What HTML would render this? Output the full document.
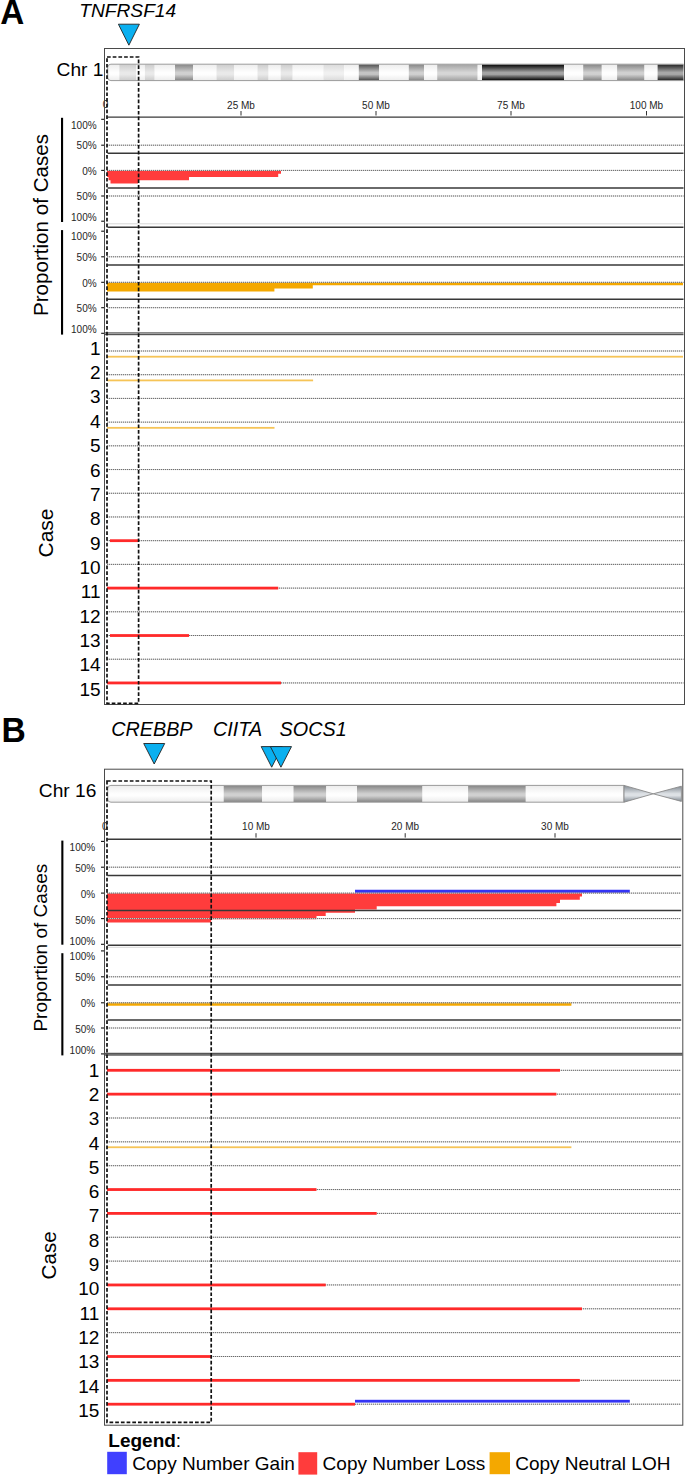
<!DOCTYPE html>
<html><head><meta charset="utf-8"><title>Figure</title>
<style>html,body{margin:0;padding:0;background:#fff;}body{width:685px;height:1475px;position:relative;overflow:hidden;font-family:"Liberation Sans", sans-serif;}</style>
</head><body>
<svg width="685" height="1475" viewBox="0 0 685 1475" style="position:absolute;left:0;top:0" font-family='"Liberation Sans", sans-serif'><defs><linearGradient id="w" x1="0" y1="0" x2="0" y2="1"><stop offset="0.04" stop-color="#eeeeee"/><stop offset="0.5" stop-color="#fefefe"/><stop offset="0.62" stop-color="#fefefe"/><stop offset="0.96" stop-color="#eeeeee"/></linearGradient><linearGradient id="g05" x1="0" y1="0" x2="0" y2="1"><stop offset="0.04" stop-color="#dcdcdc"/><stop offset="0.5" stop-color="#f0f0f0"/><stop offset="0.62" stop-color="#f0f0f0"/><stop offset="0.96" stop-color="#dcdcdc"/></linearGradient><linearGradient id="g1" x1="0" y1="0" x2="0" y2="1"><stop offset="0.04" stop-color="#cfcfcf"/><stop offset="0.5" stop-color="#e9e9e9"/><stop offset="0.62" stop-color="#e9e9e9"/><stop offset="0.96" stop-color="#cfcfcf"/></linearGradient><linearGradient id="g15" x1="0" y1="0" x2="0" y2="1"><stop offset="0.04" stop-color="#a6a6a6"/><stop offset="0.5" stop-color="#d6d6d6"/><stop offset="0.62" stop-color="#d6d6d6"/><stop offset="0.96" stop-color="#a6a6a6"/></linearGradient><linearGradient id="g2" x1="0" y1="0" x2="0" y2="1"><stop offset="0.04" stop-color="#8a8a8a"/><stop offset="0.5" stop-color="#d0d0d0"/><stop offset="0.62" stop-color="#d0d0d0"/><stop offset="0.96" stop-color="#8a8a8a"/></linearGradient><linearGradient id="g3" x1="0" y1="0" x2="0" y2="1"><stop offset="0.04" stop-color="#585858"/><stop offset="0.5" stop-color="#c4c4c4"/><stop offset="0.62" stop-color="#c4c4c4"/><stop offset="0.96" stop-color="#585858"/></linearGradient><linearGradient id="g35" x1="0" y1="0" x2="0" y2="1"><stop offset="0.04" stop-color="#2a2a2a"/><stop offset="0.5" stop-color="#a8a8a8"/><stop offset="0.62" stop-color="#a8a8a8"/><stop offset="0.96" stop-color="#2a2a2a"/></linearGradient><linearGradient id="g4" x1="0" y1="0" x2="0" y2="1"><stop offset="0.04" stop-color="#0c0c0c"/><stop offset="0.5" stop-color="#a4a4a4"/><stop offset="0.62" stop-color="#a4a4a4"/><stop offset="0.96" stop-color="#0c0c0c"/></linearGradient><linearGradient id="cen" x1="0" y1="0" x2="0" y2="1"><stop offset="0.04" stop-color="#8a929a"/><stop offset="0.5" stop-color="#dde1e5"/><stop offset="0.62" stop-color="#dde1e5"/><stop offset="0.96" stop-color="#8a929a"/></linearGradient></defs><rect x="0" y="0" width="685" height="1475" fill="#fff"/><text x="0" y="0" font-size="35" font-weight="bold" transform="translate(0.3,24.1) scale(0.95,1)">A</text><text x="79.2" y="17.1" font-size="19.2" text-anchor="start" font-weight="normal" font-style="italic" fill="#000" >TNFRSF14</text><polygon points="118.4,24.2 139.4,24.2 128.9,45.2" fill="#0ab0f0" stroke="#222" stroke-width="0.9" stroke-linejoin="miter"/><text x="56.6" y="76" font-size="19.2" text-anchor="start" font-weight="normal" font-style="normal" fill="#000" >Chr 1</text><clipPath id="clip64"><rect x="107.7" y="64.2" width="582.1999999999999" height="16.39999999999999" rx="3.2" ry="3.2"/></clipPath><g clip-path="url(#clip64)"><rect x="107.70" y="64.20" width="11.60" height="16.40" fill="url(#w)" /><rect x="119.30" y="64.20" width="16.80" height="16.40" fill="url(#g1)" /><rect x="136.10" y="64.20" width="8.80" height="16.40" fill="url(#w)" /><rect x="144.90" y="64.20" width="9.80" height="16.40" fill="url(#g1)" /><rect x="154.70" y="64.20" width="20.30" height="16.40" fill="url(#w)" /><rect x="175.00" y="64.20" width="18.00" height="16.40" fill="url(#g2)" /><rect x="193.00" y="64.20" width="23.50" height="16.40" fill="url(#w)" /><rect x="216.50" y="64.20" width="17.80" height="16.40" fill="url(#g1)" /><rect x="234.30" y="64.20" width="23.20" height="16.40" fill="url(#w)" /><rect x="257.50" y="64.20" width="11.10" height="16.40" fill="url(#g1)" /><rect x="268.60" y="64.20" width="12.10" height="16.40" fill="url(#w)" /><rect x="280.70" y="64.20" width="12.00" height="16.40" fill="url(#g1)" /><rect x="292.70" y="64.20" width="30.70" height="16.40" fill="url(#w)" /><rect x="323.40" y="64.20" width="20.80" height="16.40" fill="url(#g05)" /><rect x="344.20" y="64.20" width="14.60" height="16.40" fill="url(#w)" /><rect x="358.80" y="64.20" width="20.40" height="16.40" fill="url(#g3)" /><rect x="379.20" y="64.20" width="29.60" height="16.40" fill="url(#w)" /><rect x="408.80" y="64.20" width="15.20" height="16.40" fill="url(#g2)" /><rect x="424.00" y="64.20" width="13.20" height="16.40" fill="url(#w)" /><rect x="437.20" y="64.20" width="40.50" height="16.40" fill="url(#g15)" /><rect x="477.70" y="64.20" width="4.30" height="16.40" fill="url(#w)" /><rect x="482.00" y="64.20" width="82.00" height="16.40" fill="url(#g4)" /><rect x="564.00" y="64.20" width="19.20" height="16.40" fill="url(#w)" /><rect x="583.20" y="64.20" width="18.60" height="16.40" fill="url(#g2)" /><rect x="601.80" y="64.20" width="15.30" height="16.40" fill="url(#w)" /><rect x="617.10" y="64.20" width="27.40" height="16.40" fill="url(#g2)" /><rect x="644.50" y="64.20" width="13.10" height="16.40" fill="url(#w)" /><rect x="657.60" y="64.20" width="25.90" height="16.40" fill="url(#g35)" /></g><path d="M683.5,64.2 L110.9,64.2 A3.2,3.2 0 0 0 107.7,67.4 L107.7,77.39999999999999 A3.2,3.2 0 0 0 110.9,80.6 L683.5,80.6" fill="none" stroke="#9a9a9a" stroke-width="1"/><line x1="241" y1="111" x2="241" y2="115.5" stroke="#333" stroke-width="1"/><text x="241" y="108.6" font-size="10" text-anchor="middle" font-weight="normal" font-style="normal" fill="#262626" >25 Mb</text><line x1="376" y1="111" x2="376" y2="115.5" stroke="#333" stroke-width="1"/><text x="376" y="108.6" font-size="10" text-anchor="middle" font-weight="normal" font-style="normal" fill="#262626" >50 Mb</text><line x1="511" y1="111" x2="511" y2="115.5" stroke="#333" stroke-width="1"/><text x="511" y="108.6" font-size="10" text-anchor="middle" font-weight="normal" font-style="normal" fill="#262626" >75 Mb</text><line x1="646.5" y1="111" x2="646.5" y2="115.5" stroke="#333" stroke-width="1"/><text x="646.5" y="108.6" font-size="10" text-anchor="middle" font-weight="normal" font-style="normal" fill="#262626" >100 Mb</text><text x="105.6" y="107.8" font-size="10" text-anchor="middle" font-weight="normal" font-style="normal" fill="#262626" >0</text><polygon points="107.00,170.40 107.00,176.90 108.50,176.90 108.50,180.15 110.50,180.15 110.50,183.40 138.00,183.40 138.00,180.15 189.00,180.15 189.00,176.90 278.20,176.90 278.20,173.65 281.00,173.65 281.00,170.40" fill="#ff3c3c"/><polygon points="107.00,282.20 107.00,291.59 274.40,291.59 274.40,288.46 312.80,288.46 312.80,285.33 683.00,285.33 683.00,282.20" fill="#f4a800"/><line x1="107.5" y1="117.1" x2="683.5" y2="117.1" stroke="#383838" stroke-width="1.45"/><line x1="107.5" y1="153.2" x2="683.5" y2="153.2" stroke="#383838" stroke-width="1.45"/><line x1="107.5" y1="188" x2="683.5" y2="188" stroke="#383838" stroke-width="1.45"/><line x1="107.5" y1="227.3" x2="683.5" y2="227.3" stroke="#383838" stroke-width="1.45"/><line x1="107.5" y1="265" x2="683.5" y2="265" stroke="#383838" stroke-width="1.45"/><line x1="107.5" y1="299.3" x2="683.5" y2="299.3" stroke="#383838" stroke-width="1.45"/><line x1="107.5" y1="223.8" x2="683.5" y2="223.8" stroke="#d8d8d8" stroke-width="1"/><rect x="104.50" y="332.00" width="579.00" height="1.00" fill="#8a8a8a" /><rect x="104.50" y="333.00" width="579.00" height="1.00" fill="#9e9e9e" /><rect x="104.50" y="334.00" width="579.00" height="1.00" fill="#555555" /><rect x="104.50" y="335.00" width="579.00" height="0.40" fill="#aaaaaa" /><line x1="107" y1="145.2" x2="683.5" y2="145.2" stroke="#cfcfcf" stroke-width="1"/><line x1="107" y1="145.2" x2="683.5" y2="145.2" stroke="#6a6a6a" stroke-width="1" stroke-dasharray="1,1"/><line x1="107" y1="170.4" x2="683.5" y2="170.4" stroke="#cfcfcf" stroke-width="1"/><line x1="107" y1="170.4" x2="683.5" y2="170.4" stroke="#6a6a6a" stroke-width="1" stroke-dasharray="1,1"/><line x1="107" y1="196" x2="683.5" y2="196" stroke="#cfcfcf" stroke-width="1"/><line x1="107" y1="196" x2="683.5" y2="196" stroke="#6a6a6a" stroke-width="1" stroke-dasharray="1,1"/><line x1="107" y1="256.8" x2="683.5" y2="256.8" stroke="#cfcfcf" stroke-width="1"/><line x1="107" y1="256.8" x2="683.5" y2="256.8" stroke="#6a6a6a" stroke-width="1" stroke-dasharray="1,1"/><line x1="107" y1="282.3" x2="683.5" y2="282.3" stroke="#cfcfcf" stroke-width="1"/><line x1="107" y1="282.3" x2="683.5" y2="282.3" stroke="#6a6a6a" stroke-width="1" stroke-dasharray="1,1"/><line x1="107" y1="307.7" x2="683.5" y2="307.7" stroke="#cfcfcf" stroke-width="1"/><line x1="107" y1="307.7" x2="683.5" y2="307.7" stroke="#6a6a6a" stroke-width="1" stroke-dasharray="1,1"/><line x1="101.2" y1="119.3" x2="104.5" y2="119.3" stroke="#111" stroke-width="1.1"/><line x1="101.2" y1="145.2" x2="104.5" y2="145.2" stroke="#111" stroke-width="1.1"/><line x1="101.2" y1="170.4" x2="104.5" y2="170.4" stroke="#111" stroke-width="1.1"/><line x1="101.2" y1="196" x2="104.5" y2="196" stroke="#111" stroke-width="1.1"/><line x1="101.2" y1="221.2" x2="104.5" y2="221.2" stroke="#111" stroke-width="1.1"/><line x1="101.2" y1="231.2" x2="104.5" y2="231.2" stroke="#111" stroke-width="1.1"/><line x1="101.2" y1="256.8" x2="104.5" y2="256.8" stroke="#111" stroke-width="1.1"/><line x1="101.2" y1="282.3" x2="104.5" y2="282.3" stroke="#111" stroke-width="1.1"/><line x1="101.2" y1="307.7" x2="104.5" y2="307.7" stroke="#111" stroke-width="1.1"/><line x1="101.2" y1="333.3" x2="104.5" y2="333.3" stroke="#111" stroke-width="1.1"/><text x="96.6" y="128.5" font-size="10" text-anchor="end" font-weight="normal" font-style="normal" fill="#262626" >100%</text><text x="96.6" y="149.1" font-size="10" text-anchor="end" font-weight="normal" font-style="normal" fill="#262626" >50%</text><text x="96.6" y="175.1" font-size="10" text-anchor="end" font-weight="normal" font-style="normal" fill="#262626" >0%</text><text x="96.6" y="200.4" font-size="10" text-anchor="end" font-weight="normal" font-style="normal" fill="#262626" >50%</text><text x="96.6" y="221.1" font-size="10" text-anchor="end" font-weight="normal" font-style="normal" fill="#262626" >100%</text><text x="96.6" y="240.29999999999998" font-size="10" text-anchor="end" font-weight="normal" font-style="normal" fill="#262626" >100%</text><text x="96.6" y="261.1" font-size="10" text-anchor="end" font-weight="normal" font-style="normal" fill="#262626" >50%</text><text x="96.6" y="286.70000000000005" font-size="10" text-anchor="end" font-weight="normal" font-style="normal" fill="#262626" >0%</text><text x="96.6" y="311.8" font-size="10" text-anchor="end" font-weight="normal" font-style="normal" fill="#262626" >50%</text><text x="96.6" y="333.0" font-size="10" text-anchor="end" font-weight="normal" font-style="normal" fill="#262626" >100%</text><rect x="61.00" y="117.80" width="2.10" height="104.20" fill="#000" /><rect x="61.00" y="230.10" width="2.10" height="104.50" fill="#000" /><text x="0" y="0" font-size="20.6" text-anchor="middle" transform="translate(48.3,225.0) rotate(-90)">Proportion of Cases</text><line x1="107" y1="351.0" x2="683.5" y2="351.0" stroke="#cfcfcf" stroke-width="1"/><line x1="107" y1="351.0" x2="683.5" y2="351.0" stroke="#6a6a6a" stroke-width="1" stroke-dasharray="1,1"/><line x1="107" y1="374.71" x2="683.5" y2="374.71" stroke="#cfcfcf" stroke-width="1"/><line x1="107" y1="374.71" x2="683.5" y2="374.71" stroke="#6a6a6a" stroke-width="1" stroke-dasharray="1,1"/><line x1="107" y1="398.42" x2="683.5" y2="398.42" stroke="#cfcfcf" stroke-width="1"/><line x1="107" y1="398.42" x2="683.5" y2="398.42" stroke="#6a6a6a" stroke-width="1" stroke-dasharray="1,1"/><line x1="107" y1="422.13" x2="683.5" y2="422.13" stroke="#cfcfcf" stroke-width="1"/><line x1="107" y1="422.13" x2="683.5" y2="422.13" stroke="#6a6a6a" stroke-width="1" stroke-dasharray="1,1"/><line x1="107" y1="445.84000000000003" x2="683.5" y2="445.84000000000003" stroke="#cfcfcf" stroke-width="1"/><line x1="107" y1="445.84000000000003" x2="683.5" y2="445.84000000000003" stroke="#6a6a6a" stroke-width="1" stroke-dasharray="1,1"/><line x1="107" y1="469.55" x2="683.5" y2="469.55" stroke="#cfcfcf" stroke-width="1"/><line x1="107" y1="469.55" x2="683.5" y2="469.55" stroke="#6a6a6a" stroke-width="1" stroke-dasharray="1,1"/><line x1="107" y1="493.26" x2="683.5" y2="493.26" stroke="#cfcfcf" stroke-width="1"/><line x1="107" y1="493.26" x2="683.5" y2="493.26" stroke="#6a6a6a" stroke-width="1" stroke-dasharray="1,1"/><line x1="107" y1="516.97" x2="683.5" y2="516.97" stroke="#cfcfcf" stroke-width="1"/><line x1="107" y1="516.97" x2="683.5" y2="516.97" stroke="#6a6a6a" stroke-width="1" stroke-dasharray="1,1"/><line x1="107" y1="540.6800000000001" x2="683.5" y2="540.6800000000001" stroke="#cfcfcf" stroke-width="1"/><line x1="107" y1="540.6800000000001" x2="683.5" y2="540.6800000000001" stroke="#6a6a6a" stroke-width="1" stroke-dasharray="1,1"/><line x1="107" y1="564.39" x2="683.5" y2="564.39" stroke="#cfcfcf" stroke-width="1"/><line x1="107" y1="564.39" x2="683.5" y2="564.39" stroke="#6a6a6a" stroke-width="1" stroke-dasharray="1,1"/><line x1="107" y1="588.1" x2="683.5" y2="588.1" stroke="#cfcfcf" stroke-width="1"/><line x1="107" y1="588.1" x2="683.5" y2="588.1" stroke="#6a6a6a" stroke-width="1" stroke-dasharray="1,1"/><line x1="107" y1="611.81" x2="683.5" y2="611.81" stroke="#cfcfcf" stroke-width="1"/><line x1="107" y1="611.81" x2="683.5" y2="611.81" stroke="#6a6a6a" stroke-width="1" stroke-dasharray="1,1"/><line x1="107" y1="635.52" x2="683.5" y2="635.52" stroke="#cfcfcf" stroke-width="1"/><line x1="107" y1="635.52" x2="683.5" y2="635.52" stroke="#6a6a6a" stroke-width="1" stroke-dasharray="1,1"/><line x1="107" y1="659.23" x2="683.5" y2="659.23" stroke="#cfcfcf" stroke-width="1"/><line x1="107" y1="659.23" x2="683.5" y2="659.23" stroke="#6a6a6a" stroke-width="1" stroke-dasharray="1,1"/><line x1="107" y1="682.94" x2="683.5" y2="682.94" stroke="#cfcfcf" stroke-width="1"/><line x1="107" y1="682.94" x2="683.5" y2="682.94" stroke="#6a6a6a" stroke-width="1" stroke-dasharray="1,1"/><rect x="107.00" y="355.80" width="576.00" height="1.80" fill="#f6c457" /><rect x="107.00" y="379.51" width="206.10" height="1.80" fill="#f6c457" /><rect x="107.00" y="426.93" width="167.50" height="1.80" fill="#f6c457" /><rect x="110.00" y="539.28" width="28.00" height="2.80" fill="#ff2a2a" /><rect x="107.00" y="586.70" width="171.20" height="2.80" fill="#ff2a2a" /><rect x="110.00" y="634.12" width="79.00" height="2.80" fill="#ff2a2a" /><rect x="107.00" y="681.54" width="174.00" height="2.80" fill="#ff2a2a" /><text x="100.6" y="354.79999999999995" font-size="19" text-anchor="end" font-weight="normal" font-style="normal" fill="#000" >1</text><text x="100.6" y="379.13999999999993" font-size="19" text-anchor="end" font-weight="normal" font-style="normal" fill="#000" >2</text><text x="100.6" y="403.47999999999996" font-size="19" text-anchor="end" font-weight="normal" font-style="normal" fill="#000" >3</text><text x="100.6" y="427.81999999999994" font-size="19" text-anchor="end" font-weight="normal" font-style="normal" fill="#000" >4</text><text x="100.6" y="452.15999999999997" font-size="19" text-anchor="end" font-weight="normal" font-style="normal" fill="#000" >5</text><text x="100.6" y="476.49999999999994" font-size="19" text-anchor="end" font-weight="normal" font-style="normal" fill="#000" >6</text><text x="100.6" y="500.8399999999999" font-size="19" text-anchor="end" font-weight="normal" font-style="normal" fill="#000" >7</text><text x="100.6" y="525.18" font-size="19" text-anchor="end" font-weight="normal" font-style="normal" fill="#000" >8</text><text x="100.6" y="549.52" font-size="19" text-anchor="end" font-weight="normal" font-style="normal" fill="#000" >9</text><text x="100.6" y="573.86" font-size="19" text-anchor="end" font-weight="normal" font-style="normal" fill="#000" >10</text><text x="100.6" y="598.1999999999999" font-size="19" text-anchor="end" font-weight="normal" font-style="normal" fill="#000" >11</text><text x="100.6" y="622.54" font-size="19" text-anchor="end" font-weight="normal" font-style="normal" fill="#000" >12</text><text x="100.6" y="646.88" font-size="19" text-anchor="end" font-weight="normal" font-style="normal" fill="#000" >13</text><text x="100.6" y="671.2199999999999" font-size="19" text-anchor="end" font-weight="normal" font-style="normal" fill="#000" >14</text><text x="100.6" y="695.56" font-size="19" text-anchor="end" font-weight="normal" font-style="normal" fill="#000" >15</text><text x="0" y="0" font-size="21" text-anchor="middle" transform="translate(53.4,533) rotate(-90)">Case</text><rect x="104.5" y="48.5" width="580" height="656" fill="none" stroke="#4a4a4a" stroke-width="1"/><rect x="107" y="57" width="31.6" height="646.3" fill="none" stroke="#111" stroke-width="1.7" stroke-dasharray="3.7,2"/><text x="0" y="0" font-size="35" font-weight="bold" transform="translate(1.6,741.5) scale(0.96,1)">B</text><text x="111.2" y="735.9" font-size="19.8" text-anchor="start" font-weight="normal" font-style="italic" fill="#000" >CREBBP</text><text x="213.0" y="736.2" font-size="19.8" text-anchor="start" font-weight="normal" font-style="italic" fill="#000" >CIITA</text><text x="279.6" y="736.2" font-size="19.8" text-anchor="start" font-weight="normal" font-style="italic" fill="#000" >SOCS1</text><polygon points="143.7,743.5 164.7,743.5 154.2,764.0" fill="#0ab0f0" stroke="#222" stroke-width="0.9" stroke-linejoin="miter"/><polygon points="261.2,746.6 282.2,746.6 271.7,767.2" fill="#0ab0f0" stroke="#222" stroke-width="0.9" stroke-linejoin="miter"/><polygon points="270.4,746.6 291.5,746.6 280.95,767.2" fill="#0ab0f0" stroke="#222" stroke-width="0.9" stroke-linejoin="miter"/><text x="38.8" y="797.3" font-size="19.2" text-anchor="start" font-weight="normal" font-style="normal" fill="#000" >Chr 16</text><clipPath id="clip785"><rect x="107.7" y="785.4" width="519.5" height="16.800000000000068" rx="3.2" ry="3.2"/></clipPath><g clip-path="url(#clip785)"><rect x="107.70" y="785.40" width="116.00" height="16.80" fill="url(#w)" /><rect x="223.70" y="785.40" width="38.50" height="16.80" fill="url(#g2)" /><rect x="262.20" y="785.40" width="31.30" height="16.80" fill="url(#w)" /><rect x="293.50" y="785.40" width="32.80" height="16.80" fill="url(#g2)" /><rect x="326.30" y="785.40" width="30.70" height="16.80" fill="url(#w)" /><rect x="357.00" y="785.40" width="65.50" height="16.80" fill="url(#g2)" /><rect x="422.50" y="785.40" width="45.60" height="16.80" fill="url(#w)" /><rect x="468.10" y="785.40" width="57.70" height="16.80" fill="url(#g2)" /><rect x="525.80" y="785.40" width="98.20" height="16.80" fill="url(#w)" /></g><path d="M624,785.4 L110.9,785.4 A3.2,3.2 0 0 0 107.7,788.6 L107.7,799.0 A3.2,3.2 0 0 0 110.9,802.2 L624,802.2" fill="none" stroke="#9a9a9a" stroke-width="1"/><line x1="624" y1="785.4" x2="624" y2="802.2" stroke="#9a9a9a" stroke-width="1"/><polygon points="624,785.4 624,802.2 653.2,793.8" fill="url(#cen)" stroke="#8a8a8a" stroke-width="0.9"/><polygon points="653.2,793.8 681.4,786.2 681.4,801.4" fill="url(#cen)" stroke="#8a8a8a" stroke-width="0.9"/><line x1="256" y1="833.2" x2="256" y2="837.6" stroke="#333" stroke-width="1"/><text x="256" y="830.4" font-size="10" text-anchor="middle" font-weight="normal" font-style="normal" fill="#262626" >10 Mb</text><line x1="405.2" y1="833.2" x2="405.2" y2="837.6" stroke="#333" stroke-width="1"/><text x="405.2" y="830.4" font-size="10" text-anchor="middle" font-weight="normal" font-style="normal" fill="#262626" >20 Mb</text><line x1="555" y1="833.2" x2="555" y2="837.6" stroke="#333" stroke-width="1"/><text x="555" y="830.4" font-size="10" text-anchor="middle" font-weight="normal" font-style="normal" fill="#262626" >30 Mb</text><text x="104.8" y="829.6" font-size="10" text-anchor="middle" font-weight="normal" font-style="normal" fill="#262626" >0</text><polygon points="107.00,893.10 107.00,922.62 211.20,922.62 211.20,919.34 316.50,919.34 316.50,916.06 325.70,916.06 325.70,912.78 355.00,912.78 355.00,909.50 376.70,909.50 376.70,906.22 556.40,906.22 556.40,902.94 560.00,902.94 560.00,899.66 579.80,899.66 579.80,896.38 582.00,896.38 582.00,893.10" fill="#ff3c3c"/><polygon points="355.00,893.10 355.00,889.82 629.80,889.82 629.80,893.10" fill="#3434f4"/><polygon points="107.00,1002.60 107.00,1005.70 571.40,1005.70 571.40,1002.60" fill="#f4a800"/><line x1="107.5" y1="839.2" x2="681.2" y2="839.2" stroke="#383838" stroke-width="1.45"/><line x1="107.5" y1="875.5" x2="681.2" y2="875.5" stroke="#383838" stroke-width="1.45"/><line x1="107.5" y1="910.4" x2="681.2" y2="910.4" stroke="#383838" stroke-width="1.45"/><line x1="107.5" y1="945.3" x2="681.2" y2="945.3" stroke="#383838" stroke-width="1.45"/><line x1="107.5" y1="984.9" x2="681.2" y2="984.9" stroke="#383838" stroke-width="1.45"/><line x1="107.5" y1="1019.9" x2="681.2" y2="1019.9" stroke="#383838" stroke-width="1.45"/><line x1="107.5" y1="947.3" x2="680.5" y2="947.3" stroke="#d8d8d8" stroke-width="1"/><rect x="104.50" y="1052.60" width="578.00" height="0.40" fill="#999999" /><rect x="104.50" y="1053.00" width="578.00" height="1.00" fill="#555555" /><rect x="104.50" y="1054.00" width="578.00" height="1.00" fill="#707070" /><rect x="104.50" y="1055.00" width="578.00" height="1.00" fill="#888888" /><line x1="107" y1="867.2" x2="680.8" y2="867.2" stroke="#cfcfcf" stroke-width="1"/><line x1="107" y1="867.2" x2="680.8" y2="867.2" stroke="#6a6a6a" stroke-width="1" stroke-dasharray="1,1"/><line x1="107" y1="893.1" x2="680.8" y2="893.1" stroke="#cfcfcf" stroke-width="1"/><line x1="107" y1="893.1" x2="680.8" y2="893.1" stroke="#6a6a6a" stroke-width="1" stroke-dasharray="1,1"/><line x1="107" y1="918.6" x2="680.8" y2="918.6" stroke="#cfcfcf" stroke-width="1"/><line x1="107" y1="918.6" x2="680.8" y2="918.6" stroke="#6a6a6a" stroke-width="1" stroke-dasharray="1,1"/><line x1="107" y1="976.8" x2="680.8" y2="976.8" stroke="#cfcfcf" stroke-width="1"/><line x1="107" y1="976.8" x2="680.8" y2="976.8" stroke="#6a6a6a" stroke-width="1" stroke-dasharray="1,1"/><line x1="107" y1="1002.8" x2="680.8" y2="1002.8" stroke="#cfcfcf" stroke-width="1"/><line x1="107" y1="1002.8" x2="680.8" y2="1002.8" stroke="#6a6a6a" stroke-width="1" stroke-dasharray="1,1"/><line x1="107" y1="1028" x2="680.8" y2="1028" stroke="#cfcfcf" stroke-width="1"/><line x1="107" y1="1028" x2="680.8" y2="1028" stroke="#6a6a6a" stroke-width="1" stroke-dasharray="1,1"/><line x1="101.0" y1="841.4" x2="104.5" y2="841.4" stroke="#111" stroke-width="1.1"/><line x1="101.0" y1="867.2" x2="104.5" y2="867.2" stroke="#111" stroke-width="1.1"/><line x1="101.0" y1="893.1" x2="104.5" y2="893.1" stroke="#111" stroke-width="1.1"/><line x1="101.0" y1="918.6" x2="104.5" y2="918.6" stroke="#111" stroke-width="1.1"/><line x1="101.0" y1="944.3" x2="104.5" y2="944.3" stroke="#111" stroke-width="1.1"/><line x1="101.0" y1="950.9" x2="104.5" y2="950.9" stroke="#111" stroke-width="1.1"/><line x1="101.0" y1="976.8" x2="104.5" y2="976.8" stroke="#111" stroke-width="1.1"/><line x1="101.0" y1="1002.8" x2="104.5" y2="1002.8" stroke="#111" stroke-width="1.1"/><line x1="101.0" y1="1028" x2="104.5" y2="1028" stroke="#111" stroke-width="1.1"/><line x1="101.0" y1="1053.9" x2="104.5" y2="1053.9" stroke="#111" stroke-width="1.1"/><text x="95.2" y="850.8000000000001" font-size="10" text-anchor="end" font-weight="normal" font-style="normal" fill="#262626" >100%</text><text x="95.2" y="872.2" font-size="10" text-anchor="end" font-weight="normal" font-style="normal" fill="#262626" >50%</text><text x="95.2" y="898.0" font-size="10" text-anchor="end" font-weight="normal" font-style="normal" fill="#262626" >0%</text><text x="95.2" y="923.7" font-size="10" text-anchor="end" font-weight="normal" font-style="normal" fill="#262626" >50%</text><text x="95.2" y="944.8000000000001" font-size="10" text-anchor="end" font-weight="normal" font-style="normal" fill="#262626" >100%</text><text x="95.2" y="960.4" font-size="10" text-anchor="end" font-weight="normal" font-style="normal" fill="#262626" >100%</text><text x="95.2" y="981.4" font-size="10" text-anchor="end" font-weight="normal" font-style="normal" fill="#262626" >50%</text><text x="95.2" y="1007.1" font-size="10" text-anchor="end" font-weight="normal" font-style="normal" fill="#262626" >0%</text><text x="95.2" y="1032.8999999999999" font-size="10" text-anchor="end" font-weight="normal" font-style="normal" fill="#262626" >50%</text><text x="95.2" y="1054.0" font-size="10" text-anchor="end" font-weight="normal" font-style="normal" fill="#262626" >100%</text><rect x="61.30" y="840.60" width="2.10" height="104.10" fill="#000" /><rect x="61.30" y="953.20" width="2.10" height="102.20" fill="#000" /><text x="0" y="0" font-size="19" text-anchor="middle" transform="translate(46.9,947.6) rotate(-90)">Proportion of Cases</text><line x1="107" y1="1070.3" x2="681" y2="1070.3" stroke="#cfcfcf" stroke-width="1"/><line x1="107" y1="1070.3" x2="681" y2="1070.3" stroke="#6a6a6a" stroke-width="1" stroke-dasharray="1,1"/><line x1="107" y1="1094.1499999999999" x2="681" y2="1094.1499999999999" stroke="#cfcfcf" stroke-width="1"/><line x1="107" y1="1094.1499999999999" x2="681" y2="1094.1499999999999" stroke="#6a6a6a" stroke-width="1" stroke-dasharray="1,1"/><line x1="107" y1="1118.0" x2="681" y2="1118.0" stroke="#cfcfcf" stroke-width="1"/><line x1="107" y1="1118.0" x2="681" y2="1118.0" stroke="#6a6a6a" stroke-width="1" stroke-dasharray="1,1"/><line x1="107" y1="1141.85" x2="681" y2="1141.85" stroke="#cfcfcf" stroke-width="1"/><line x1="107" y1="1141.85" x2="681" y2="1141.85" stroke="#6a6a6a" stroke-width="1" stroke-dasharray="1,1"/><line x1="107" y1="1165.7" x2="681" y2="1165.7" stroke="#cfcfcf" stroke-width="1"/><line x1="107" y1="1165.7" x2="681" y2="1165.7" stroke="#6a6a6a" stroke-width="1" stroke-dasharray="1,1"/><line x1="107" y1="1189.55" x2="681" y2="1189.55" stroke="#cfcfcf" stroke-width="1"/><line x1="107" y1="1189.55" x2="681" y2="1189.55" stroke="#6a6a6a" stroke-width="1" stroke-dasharray="1,1"/><line x1="107" y1="1213.4" x2="681" y2="1213.4" stroke="#cfcfcf" stroke-width="1"/><line x1="107" y1="1213.4" x2="681" y2="1213.4" stroke="#6a6a6a" stroke-width="1" stroke-dasharray="1,1"/><line x1="107" y1="1237.25" x2="681" y2="1237.25" stroke="#cfcfcf" stroke-width="1"/><line x1="107" y1="1237.25" x2="681" y2="1237.25" stroke="#6a6a6a" stroke-width="1" stroke-dasharray="1,1"/><line x1="107" y1="1261.1" x2="681" y2="1261.1" stroke="#cfcfcf" stroke-width="1"/><line x1="107" y1="1261.1" x2="681" y2="1261.1" stroke="#6a6a6a" stroke-width="1" stroke-dasharray="1,1"/><line x1="107" y1="1284.95" x2="681" y2="1284.95" stroke="#cfcfcf" stroke-width="1"/><line x1="107" y1="1284.95" x2="681" y2="1284.95" stroke="#6a6a6a" stroke-width="1" stroke-dasharray="1,1"/><line x1="107" y1="1308.8" x2="681" y2="1308.8" stroke="#cfcfcf" stroke-width="1"/><line x1="107" y1="1308.8" x2="681" y2="1308.8" stroke="#6a6a6a" stroke-width="1" stroke-dasharray="1,1"/><line x1="107" y1="1332.65" x2="681" y2="1332.65" stroke="#cfcfcf" stroke-width="1"/><line x1="107" y1="1332.65" x2="681" y2="1332.65" stroke="#6a6a6a" stroke-width="1" stroke-dasharray="1,1"/><line x1="107" y1="1356.5" x2="681" y2="1356.5" stroke="#cfcfcf" stroke-width="1"/><line x1="107" y1="1356.5" x2="681" y2="1356.5" stroke="#6a6a6a" stroke-width="1" stroke-dasharray="1,1"/><line x1="107" y1="1380.35" x2="681" y2="1380.35" stroke="#cfcfcf" stroke-width="1"/><line x1="107" y1="1380.35" x2="681" y2="1380.35" stroke="#6a6a6a" stroke-width="1" stroke-dasharray="1,1"/><line x1="107" y1="1404.2" x2="681" y2="1404.2" stroke="#cfcfcf" stroke-width="1"/><line x1="107" y1="1404.2" x2="681" y2="1404.2" stroke="#6a6a6a" stroke-width="1" stroke-dasharray="1,1"/><rect x="107.00" y="1068.90" width="453.00" height="2.80" fill="#ff2a2a" /><rect x="107.00" y="1092.75" width="449.40" height="2.80" fill="#ff2a2a" /><rect x="107.00" y="1146.35" width="464.40" height="1.80" fill="#f6c457" /><rect x="107.00" y="1188.15" width="209.50" height="2.80" fill="#ff2a2a" /><rect x="107.00" y="1212.00" width="269.70" height="2.80" fill="#ff2a2a" /><rect x="107.00" y="1283.55" width="218.70" height="2.80" fill="#ff2a2a" /><rect x="107.00" y="1307.40" width="475.00" height="2.80" fill="#ff2a2a" /><rect x="107.00" y="1355.10" width="104.50" height="2.80" fill="#ff2a2a" /><rect x="107.00" y="1378.95" width="472.80" height="2.80" fill="#ff2a2a" /><rect x="107.00" y="1402.80" width="248.00" height="2.80" fill="#ff2a2a" /><rect x="355.00" y="1399.80" width="274.80" height="2.80" fill="#3434f4" /><text x="99.3" y="1076.6000000000001" font-size="19" text-anchor="end" font-weight="normal" font-style="normal" fill="#000" >1</text><text x="99.3" y="1100.91" font-size="19" text-anchor="end" font-weight="normal" font-style="normal" fill="#000" >2</text><text x="99.3" y="1125.22" font-size="19" text-anchor="end" font-weight="normal" font-style="normal" fill="#000" >3</text><text x="99.3" y="1149.5300000000002" font-size="19" text-anchor="end" font-weight="normal" font-style="normal" fill="#000" >4</text><text x="99.3" y="1173.8400000000001" font-size="19" text-anchor="end" font-weight="normal" font-style="normal" fill="#000" >5</text><text x="99.3" y="1198.15" font-size="19" text-anchor="end" font-weight="normal" font-style="normal" fill="#000" >6</text><text x="99.3" y="1222.46" font-size="19" text-anchor="end" font-weight="normal" font-style="normal" fill="#000" >7</text><text x="99.3" y="1246.7700000000002" font-size="19" text-anchor="end" font-weight="normal" font-style="normal" fill="#000" >8</text><text x="99.3" y="1271.0800000000002" font-size="19" text-anchor="end" font-weight="normal" font-style="normal" fill="#000" >9</text><text x="99.3" y="1295.39" font-size="19" text-anchor="end" font-weight="normal" font-style="normal" fill="#000" >10</text><text x="99.3" y="1319.7" font-size="19" text-anchor="end" font-weight="normal" font-style="normal" fill="#000" >11</text><text x="99.3" y="1344.0100000000002" font-size="19" text-anchor="end" font-weight="normal" font-style="normal" fill="#000" >12</text><text x="99.3" y="1368.3200000000002" font-size="19" text-anchor="end" font-weight="normal" font-style="normal" fill="#000" >13</text><text x="99.3" y="1392.63" font-size="19" text-anchor="end" font-weight="normal" font-style="normal" fill="#000" >14</text><text x="99.3" y="1416.94" font-size="19" text-anchor="end" font-weight="normal" font-style="normal" fill="#000" >15</text><text x="0" y="0" font-size="20.6" text-anchor="middle" transform="translate(55.6,1255.4) rotate(-90)">Case</text><rect x="104.5" y="769.2" width="578.3" height="656" fill="none" stroke="#4a4a4a" stroke-width="1"/><rect x="107" y="781" width="104.2" height="641.4" fill="none" stroke="#111" stroke-width="1.7" stroke-dasharray="3.7,2"/><text x="108.3" y="1447.4" font-size="19"><tspan font-weight="bold">Legend</tspan>:</text><rect x="107.20" y="1451.80" width="19.60" height="22.40" fill="#4040ff" /><text x="132.3" y="1470.3" font-size="19" text-anchor="start" font-weight="normal" font-style="normal" fill="#000" >Copy Number Gain</text><rect x="298.40" y="1452.20" width="18.80" height="22.40" fill="#ff3c3c" /><text x="322.6" y="1470.3" font-size="19" text-anchor="start" font-weight="normal" font-style="normal" fill="#000" >Copy Number Loss</text><rect x="489.60" y="1452.20" width="20.40" height="22.00" fill="#f4a800" /><text x="515.2" y="1470.3" font-size="19" text-anchor="start" font-weight="normal" font-style="normal" fill="#000" >Copy Neutral LOH</text></svg>
</body></html>
